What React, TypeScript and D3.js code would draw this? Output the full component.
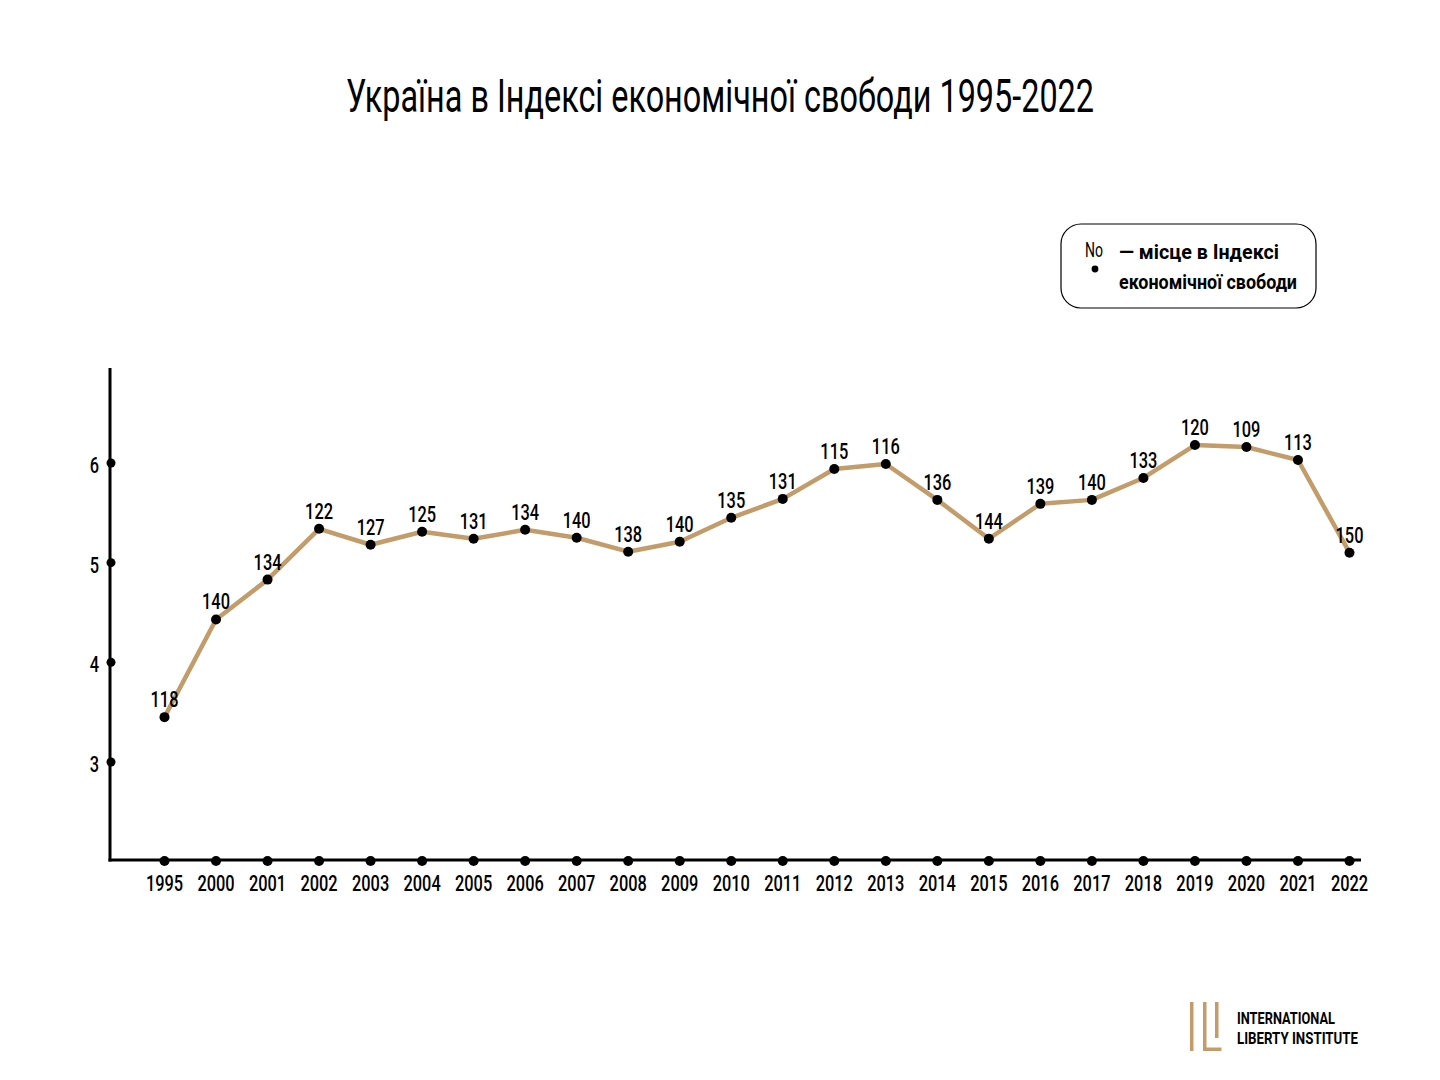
import React from "react";
import * as d3 from "d3";

const years = ["1995","2000","2001","2002","2003","2004","2005","2006","2007","2008","2009","2010","2011","2012","2013","2014","2015","2016","2017","2018","2019","2020","2021","2022"];
const scores = [3.45,4.43,4.83,5.34,5.18,5.31,5.24,5.33,5.25,5.11,5.21,5.45,5.64,5.94,5.99,5.63,5.24,5.59,5.63,5.85,6.18,6.16,6.03,5.10];
const ranks = [118,140,134,122,127,125,131,134,140,138,140,135,131,115,116,136,144,139,140,133,120,109,113,150];
const yTicks = [3,4,5,6];

const FONT = "Roboto, 'DejaVu Sans Condensed', sans-serif";
const GOLD = "#c29c6a";
const DIGIT_W = 9.3;

export default function App() {
  const W = 1440, H = 1080;
  const x = d3.scalePoint<string>().domain(years).range([164.5, 1349.5]);
  const y = d3.scaleLinear().domain([3, 6]).range([762, 463]);
  const line = d3.line<number>().x((_, i) => x(years[i])!).y((d) => y(d));
  const axisLeft = 110, axisBottom = 860, axisTop = 368, axisRight = 1361;

  return (
    <svg width={W} height={H} style={{ display: "block", margin: -8, background: "#fff" }} fontFamily={FONT}>
      <rect width={W} height={H} fill="#fff" />
      <text x={720} y={112} textAnchor="middle" fontSize={47} fontWeight={400} textLength={748} lengthAdjust="spacingAndGlyphs" fill="#000">
        Україна в Індексі економічної свободи 1995-2022
      </text>

      {/* legend */}
      <rect x={1061} y={224} width={255} height={84} rx={20} ry={20} fill="none" stroke="#000" strokeWidth={1.2} />
      <text x={1085} y={257} fontSize={20} fill="#000" textLength={18} lengthAdjust="spacingAndGlyphs">No</text>
      <circle cx={1095} cy={269} r={3.4} fill="#000" />
      <text x={1119} y={259} fontSize={20} fontWeight="bold" fill="#000" textLength={160} lengthAdjust="spacingAndGlyphs">— місце в Індексі</text>
      <text x={1119} y={289} fontSize={20} fontWeight="bold" fill="#000" textLength={178} lengthAdjust="spacingAndGlyphs">економічної свободи</text>

      {/* axes */}
      <line x1={axisLeft} x2={axisLeft} y1={axisTop} y2={axisBottom + 1.5} stroke="#000" strokeWidth={3} />
      <line x1={axisLeft - 1.5} x2={axisRight} y1={axisBottom} y2={axisBottom} stroke="#000" strokeWidth={3} />
      {yTicks.map((t) => (
        <g key={t}>
          <circle cx={axisLeft + 1} cy={y(t)} r={4.5} fill="#000" />
          <text x={99} y={y(t) + 10} textAnchor="end" fontSize={22} fontWeight={500} fill="#000" textLength={DIGIT_W} lengthAdjust="spacingAndGlyphs">{t}</text>
        </g>
      ))}
      {years.map((yr) => (
        <g key={yr}>
          <circle cx={x(yr)} cy={axisBottom + 1} r={5} fill="#000" />
          <text x={x(yr)} y={891} textAnchor="middle" fontSize={22} fontWeight={500} fill="#000" textLength={DIGIT_W * 4} lengthAdjust="spacingAndGlyphs">{yr}</text>
        </g>
      ))}

      {/* line */}
      <path d={line(scores) || ""} fill="none" stroke={GOLD} strokeWidth={4.5} strokeLinejoin="round" />
      {scores.map((s, i) => (
        <g key={i}>
          <circle cx={x(years[i])} cy={y(s)} r={5} fill="#000" />
          <text x={x(years[i])} y={y(s) - 10} textAnchor="middle" fontSize={22} fontWeight={500} fill="#000" textLength={DIGIT_W * 3} lengthAdjust="spacingAndGlyphs">{ranks[i]}</text>
        </g>
      ))}

      {/* logo */}
      <g fill={GOLD}>
        <rect x={1190} y={1002} width={3.5} height={49} />
        <rect x={1203} y={1002} width={3.5} height={49} />
        <rect x={1203} y={1047.5} width={18.5} height={3.5} />
        <rect x={1215} y={1002} width={3.5} height={36} />
      </g>
      <text x={1237} y={1024} fontSize={17} fontWeight="bold" fill="#000" textLength={98} lengthAdjust="spacingAndGlyphs">
        INTERNATIONAL
      </text>
      <text x={1237} y={1044} fontSize={17} fontWeight="bold" fill="#000" textLength={121} lengthAdjust="spacingAndGlyphs">
        LIBERTY INSTITUTE
      </text>
    </svg>
  );
}
